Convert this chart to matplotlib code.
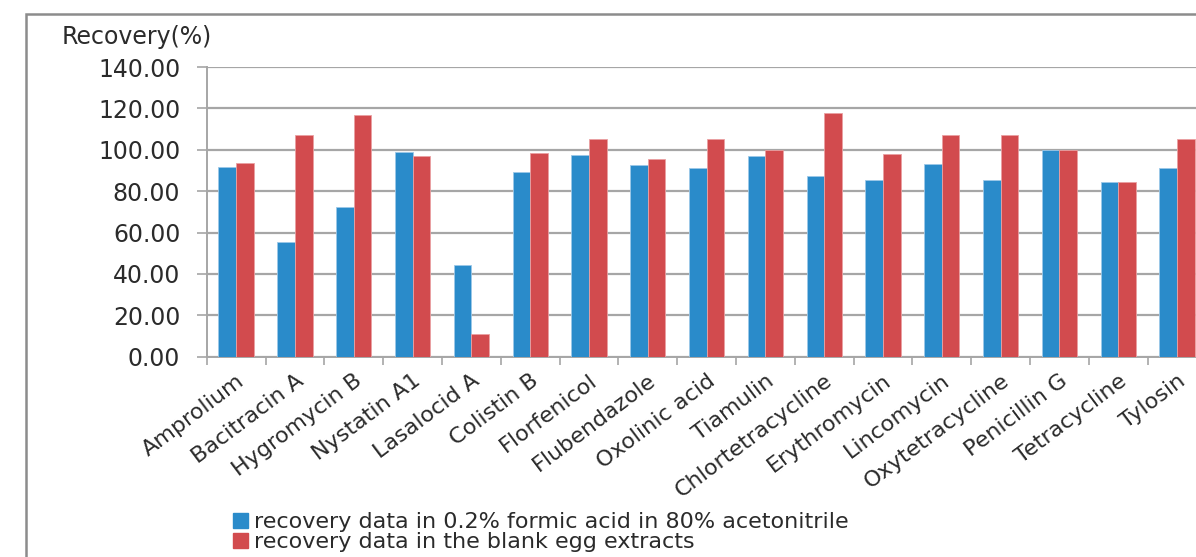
import matplotlib
matplotlib.use("Agg")
import matplotlib.pyplot as plt
from matplotlib.patches import Rectangle, Patch
import numpy as np

drugs = [
    "Amprolium", "Bacitracin A", "Hygromycin B", "Nystatin A1", "Lasalocid A",
    "Colistin B", "Florfenicol", "Flubendazole", "Oxolinic acid", "Tiamulin",
    "Chlortetracycline", "Erythromycin", "Lincomycin", "Oxytetracycline",
    "Penicillin G", "Tetracycline", "Tylosin",
]
formic = [91.5, 55.4, 72.2, 98.7, 44.3, 89.3, 97.3, 92.8, 91.0, 96.9,
          87.5, 85.3, 93.3, 85.3, 100.0, 84.3, 91.0]
egg = [93.8, 107.2, 116.7, 96.9, 10.8, 98.3, 105.4, 95.6, 105.1, 100.0,
       117.6, 97.8, 107.3, 107.3, 100.0, 84.3, 105.1]
labels = [
    "recovery data in 0.2% formic acid in 80% acetonitrile",
    "recovery data in the blank egg extracts",
]
yticks = [0, 20, 40, 60, 80, 100, 120, 140]

BLUE = "#2a8bca"
RED = "#d24b4e"
TXT = "#2b2b2b"
GRID = "#a6a6a6"

W, H = 1196, 557
fig = plt.figure(figsize=(W / 100, H / 100), dpi=100)

# axes box in pixels (right edge runs past the cropped picture)
left, right, top, bottom = 206.7, 1206.5, 67.0, 356.7
ax = fig.add_axes([left / W, 1 - bottom / H, (right - left) / W, (bottom - top) / H])

x = np.arange(len(drugs))
bw = 0.3
ax.bar(x - bw / 2, formic, bw, color=BLUE, edgecolor="#9cc8e8", linewidth=0.6, zorder=3)
ax.bar(x + bw / 2, egg, bw, color=RED, edgecolor="#eaa0a2", linewidth=0.6, zorder=3)

ax.set_xlim(-0.5, len(drugs) - 0.5)
ax.set_ylim(0, 140)
ax.set_yticks(yticks)
ax.set_yticklabels([f"{v:.2f}" for v in yticks], fontsize=17, color=TXT)
ax.yaxis.grid(True, color=GRID, linewidth=1.6, zorder=0)

ax.set_xticks(np.arange(len(drugs) + 1) - 0.5, minor=False)
ax.set_xticklabels([])
ax.set_xticks(x, minor=True)
ax.set_xticklabels(drugs, minor=True, rotation=37, ha="right",
                   rotation_mode="anchor", fontsize=16, color=TXT)
ax.tick_params(axis="x", which="major", length=6, color=GRID, width=1.2)
ax.tick_params(axis="x", which="minor", length=0, pad=10)
ax.tick_params(axis="y", length=7, color=GRID, width=1.2, pad=12)

for s in ["top", "right"]:
    ax.spines[s].set_visible(False)
for s in ["left", "bottom"]:
    ax.spines[s].set_color(GRID)
    ax.spines[s].set_linewidth(1.4)

fig.text(62 / W, 1 - 37 / H, "Recovery(%)", fontsize=17, color=TXT,
         ha="left", va="center")

handles = [Patch(color=BLUE), Patch(color=RED)]
fig.legend(handles, labels, loc="upper left",
           bbox_to_anchor=(222 / W, 1 - 501 / H), frameon=False,
           fontsize=16, handlelength=0.65, handleheight=0.65,
           handletextpad=0.3, labelspacing=0.0, borderpad=0,
           labelcolor=TXT)

# outer chart border (only left and top edges fall inside the picture)
fig.patches.append(Rectangle((26 / W, -0.1), 1.2, 1 - 14 / H + 0.1,
                             transform=fig.transFigure, fill=False,
                             edgecolor="#8c8c8c", linewidth=1.8))

fig.savefig("out.png", dpi=100)
